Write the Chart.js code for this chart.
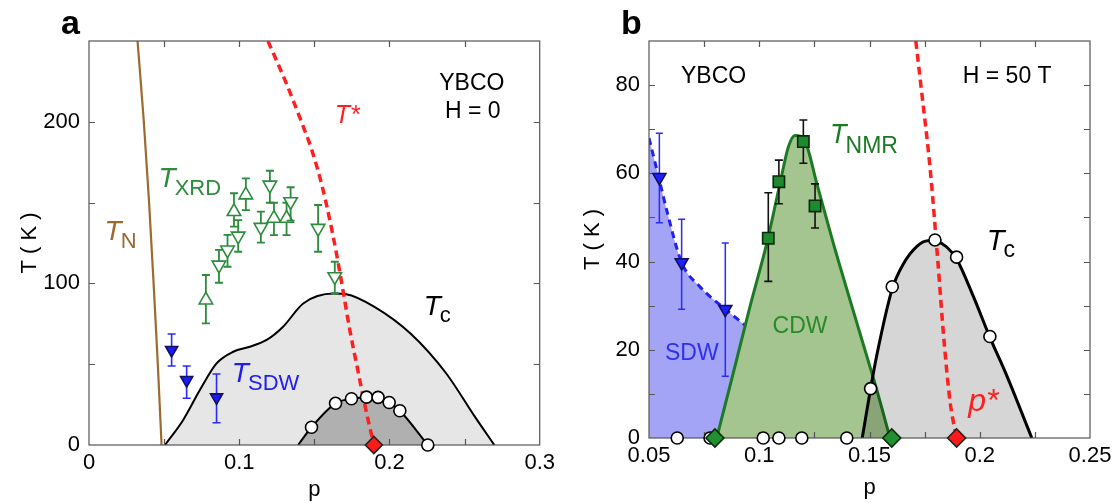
<!DOCTYPE html>
<html>
<head>
<meta charset="utf-8">
<script src="https://cdn.jsdelivr.net/npm/chart.js@4.4.1/dist/chart.umd.min.js"></script>
<style>
  body { margin: 0; background: #fff; }
  #wrap { position: relative; width: 1117px; height: 503px; }
  canvas { position: absolute; top: 0; }
  #chartA { left: 0; }
  #chartB { left: 560px; }
</style>
</head>
<body>
<div id="wrap">
  <canvas id="chartA" width="560" height="503"></canvas>
  <canvas id="chartB" width="557" height="503"></canvas>
</div>
<script>
const FONT = '"Liberation Sans", Arial, Helvetica, sans-serif';

// ---- panel a : YBCO, H = 0 ----
const xTicksA = [0, 0.1, 0.2, 0.3];
const yTicksA = [0, 100, 200];
const tnLineA = [[0.0323, 250], [0.0365, 200], [0.0400, 150], [0.0430, 100], [0.0458, 50], [0.0483, 0]];
const tStarA = [[0.1191, 250], [0.1304, 225.9], [0.1404, 202.4], [0.1483, 182.5], [0.155, 160.9], [0.1603, 139.2],
                [0.1649, 117.6], [0.169, 95.9], [0.1736, 71.2], [0.1789, 46.4], [0.1843, 21.7], [0.1896, 0]];
const tcDomeA = [[0.0506, 0], [0.0627, 15.5], [0.0738, 34], [0.0849, 50.5], [0.096, 57.7], [0.1071, 60.8],
                 [0.1182, 65], [0.1292, 73.2], [0.1426, 87.6], [0.1628, 93.7], [0.1712, 93.3], [0.190, 85.5],
                 [0.214, 69], [0.2377, 44.4], [0.2567, 17.7], [0.2698, 0]];
const tcInnerA = [[0.1392, 0], [0.1481, 11], [0.1641, 25.8], [0.1747, 28.6], [0.1847, 29.6], [0.1924, 29.5],
                  [0.1998, 26.3], [0.2069, 21.2], [0.2255, 0]];
const tcInnerPtsA = [[0.1481, 11], [0.1641, 25.8], [0.1747, 28.6], [0.1847, 29.6], [0.1924, 29.5],
                     [0.1998, 26.3], [0.2069, 21.2], [0.2255, 0]];
// [p, T, lower, upper]
const xrdUp = [[0.0778, 89.7, 75.3, 105.2], [0.0965, 144.4, 135.1, 155.8], [0.1044, 154.7, 145.4, 165],
               [0.1231, 140.3, 129.9, 149.9], [0.1315, 140.3, 129.9, 149.9]];
const xrdDown = [[0.0865, 111.4, 100.4, 120.7], [0.0922, 120.7, 110.3, 130], [0.0993, 129.3, 119.6, 139.2],
                 [0.1144, 134.7, 125.2, 144.4], [0.1204, 160.9, 149.9, 169.7], [0.1342, 150.6, 138.8, 159.5],
                 [0.1525, 134.1, 119.6, 148.5], [0.1636, 104.2, 93.9, 113.4]];
const sdwA = [[0.055, 58.8, 48.9, 68.7], [0.065, 40.2, 28.9, 48.9], [0.0849, 29.5, 13.8, 43.9]];
const pStarA = [[0.1896, 0]];

// ---- panel b : YBCO, H = 50 T ----
const xTicksB = [0.05, 0.1, 0.15, 0.2, 0.25];
const yTicksB = [0, 20, 40, 60, 80];
const sdwLineB = [[0.05, 68], [0.0547, 58.5], [0.058, 51.7], [0.0648, 39.8], [0.0731, 34.3], [0.0846, 29.2], [0.0943, 25.3]];
const cdwLineB = [[0.0807, 0], [0.0882, 14.7], [0.0958, 29.8], [0.1034, 44.1], [0.1094, 57.7], [0.1132, 66],
                  [0.1162, 68.6], [0.1208, 67.2], [0.1261, 57.7], [0.1336, 44.1], [0.1457, 23.7], [0.1533, 10.9], [0.1593, 0]];
const tcDomeB = [[0.1467, 0], [0.1505, 11.2], [0.1532, 18.5], [0.1603, 33.8], [0.1654, 39.5], [0.1714, 43.4],
                 [0.1765, 44.7], [0.181, 44.5], [0.185, 43.3], [0.1895, 40.6], [0.1971, 32.1], [0.2046, 22.8],
                 [0.2122, 14.2], [0.2236, 0]];
const pStarLineB = [[0.171, 90], [0.1733, 80], [0.1777, 60], [0.181, 40], [0.1838, 22], [0.1866, 8], [0.1895, 0]];
const tcPtsB = [[0.1505, 11.2], [0.1603, 34.3], [0.1797, 44.9], [0.1895, 41], [0.2046, 23],
                [0.0628, 0], [0.0777, 0], [0.1018, 0], [0.1089, 0], [0.1193, 0], [0.1397, 0]];
const nmrB = [[0.1041, 45.3, 35.5, 55.6], [0.1089, 58.1, 53.1, 63.0], [0.12, 67.2, 62.3, 72.1], [0.1253, 52.6, 47.6, 57.6]];
const sdwB = [[0.0547, 59.1, 48.8, 69.1], [0.0648, 39.8, 29.2, 49.6], [0.0846, 29.2, 14.0, 44.2]];
const cdwEndsB = [[0.0799, 0], [0.1601, 0]];
const pStarB = [[0.1895, 0]];

const pts = arr => arr.map(d => ({x: d[0], y: d[1]}));

function curve(data, color, width, extra) {
  return Object.assign({
    data: pts(data), borderColor: color, borderWidth: width, pointRadius: 0,
    cubicInterpolationMode: 'monotone', fill: false
  }, extra);
}

function markers(data, style, radius, fillColor, edgeColor, extra) {
  return Object.assign({
    data: pts(data), showLine: false, pointStyle: style, pointRadius: radius,
    pointBackgroundColor: fillColor, pointBorderColor: edgeColor, pointBorderWidth: 1.6, clip: false
  }, extra);
}

// vertical error bars, drawn just under the markers they belong to
const errorBars = {
  id: 'errorBars',
  beforeDatasetDraw(chart, args) {
    const ds = chart.data.datasets[args.index];
    if (!ds.errors) return;
    const {x, y} = chart.scales;
    const ctx = chart.ctx;
    const cap = ds.errorCap;
    ctx.save();
    ctx.strokeStyle = ds.errorColor;
    ctx.lineWidth = ds.errorWidth;
    ds.errors.forEach(d => {
      const px = x.getPixelForValue(d[0]);
      const lo = y.getPixelForValue(d[2]);
      const hi = y.getPixelForValue(d[3]);
      ctx.beginPath();
      ctx.moveTo(px, lo); ctx.lineTo(px, hi);
      ctx.moveTo(px - cap, lo); ctx.lineTo(px + cap, lo);
      ctx.moveTo(px - cap, hi); ctx.lineTo(px + cap, hi);
      ctx.stroke();
    });
    ctx.restore();
  }
};

// box around the plot with inward ticks on all four sides
function frame(xStep, yStep) {
  return {
    id: 'frame',
    afterDatasetDraw(chart, args) {
      const ds = chart.data.datasets[args.index];
      if (!ds.frameAfter) return;
      const {x, y} = chart.scales;
      const a = chart.chartArea;
      const ctx = chart.ctx;
      const len = 6;
      ctx.save();
      ctx.strokeStyle = '#555';
      ctx.lineWidth = 1.2;
      ctx.strokeRect(a.left, a.top, a.right - a.left, a.bottom - a.top);
      ctx.beginPath();
      for (let v = x.min + xStep; v < x.max - 1e-9; v += xStep) {
        const px = Math.round(x.getPixelForValue(v)) + 0.5;
        ctx.moveTo(px, a.bottom); ctx.lineTo(px, a.bottom - len);
        ctx.moveTo(px, a.top); ctx.lineTo(px, a.top + len);
      }
      for (let v = y.min + yStep; v < y.max - 1e-9; v += yStep) {
        const py = Math.round(y.getPixelForValue(v)) + 0.5;
        ctx.moveTo(a.left, py); ctx.lineTo(a.left + len, py);
        ctx.moveTo(a.right, py); ctx.lineTo(a.right - len, py);
      }
      ctx.stroke();
      ctx.restore();
    }
  };
}

// text labels; positions in data units, sub = subscript
function notes(letter, list) {
  return {
    id: 'notes',
    afterDraw(chart) {
      const {x, y} = chart.scales;
      const ctx = chart.ctx;
      ctx.save();
      ctx.textBaseline = 'alphabetic';
      ctx.fillStyle = '#000';
      ctx.textAlign = 'left';
      ctx.font = 'bold 34px ' + FONT;
      ctx.fillText(letter, 61, 34);
      list.forEach(n => {
        const px = x.getPixelForValue(n.p);
        const py = y.getPixelForValue(n.T);
        ctx.fillStyle = n.color;
        ctx.font = n.font;
        ctx.textAlign = n.align || 'left';
        ctx.fillText(n.text, px, py);
        if (n.sub) {
          const w = ctx.measureText(n.text).width;
          ctx.font = n.subFont;
          ctx.textAlign = 'left';
          ctx.fillText(n.sub, px + w - 1, py + n.subDy);
        }
      });
      ctx.restore();
    }
  };
}

function axes(xr, yr, xTicks, yTicks, yWidth, xHeight, yTitlePad, xTitlePad) {
  const tickFont = {family: FONT, size: 22, lineHeight: 1.2};
  return {
    x: {
      type: 'linear', min: xr[0], max: xr[1],
      afterBuildTicks: s => { s.ticks = xTicks.map(v => ({value: v})); },
      afterFit: s => { s.height = xHeight; },
      grid: {display: false, drawTicks: false},
      border: {display: false},
      ticks: {padding: 5, color: '#000', font: tickFont, autoSkip: false, maxRotation: 0, callback: v => String(v)},
      title: {display: true, text: 'p', color: '#000', font: tickFont, padding: {top: 0, bottom: xTitlePad}}
    },
    y: {
      type: 'linear', min: yr[0], max: yr[1],
      afterBuildTicks: s => { s.ticks = yTicks.map(v => ({value: v})); },
      afterFit: s => { s.width = yWidth; },
      grid: {display: false, drawTicks: false},
      border: {display: false},
      ticks: {padding: 9, color: '#000', font: tickFont, autoSkip: false, callback: v => String(v)},
      title: {display: true, text: 'T ( K )', color: '#000', font: tickFont, padding: {top: yTitlePad, bottom: 0}}
    }
  };
}

const baseOptions = {
  responsive: false,
  animation: false,
  events: [],
  plugins: {legend: {display: false}, tooltip: {enabled: false}}
};

const italic = s => 'italic ' + s + 'px ' + FONT;
const plain = s => s + 'px ' + FONT;

// ---- chart a ----
new Chart(document.getElementById('chartA'), {
  type: 'line',
  data: {
    datasets: [
      markers(pStarA, 'rectRot', 8.5, '#ff1a1a', '#222', {order: 1}),
      markers(tcInnerPtsA, 'circle', 6, '#fff', '#000', {order: 2}),
      markers(sdwA, 'triangle', 7, '#1a1aff', '#101060',
        {order: 3, pointRotation: 180, errors: sdwA, errorColor: '#2a2aff', errorWidth: 1.6, errorCap: 4}),
      markers(xrdDown, 'triangle', 7.8, '#fff', '#2b8c3c',
        {order: 4, pointRotation: 180, errors: xrdDown, errorColor: '#2b8c3c', errorWidth: 1.8, errorCap: 4}),
      markers(xrdUp, 'triangle', 7.8, '#fff', '#2b8c3c',
        {order: 5, errors: xrdUp, errorColor: '#2b8c3c', errorWidth: 1.8, errorCap: 4}),
      curve(tStarA, '#ff1f1f', 3.5, {order: 6, borderDash: [8, 5]}),
      curve(tcInnerA, '#000', 2, {order: 7, fill: 'origin', backgroundColor: '#b0b0b0', frameAfter: true}),
      curve(tcDomeA, '#000', 2, {order: 8, fill: 'origin', backgroundColor: '#e6e6e6'}),
      curve(tnLineA, '#9b6a2f', 2.2, {order: 9})
    ]
  },
  options: Object.assign({}, baseOptions, {
    layout: {padding: {left: 0, right: 20, top: 41, bottom: 0}},
    scales: axes([0, 0.3], [0, 250], xTicksA, yTicksA, 89, 58, 17, 0)
  }),
  plugins: [errorBars, frame(0.05, 50), notes('a', [
    {text: 'YBCO', p: 0.2548, T: 219.7, align: 'center', color: '#000', font: plain(23)},
    {text: 'H = 0', p: 0.2554, T: 202.4, align: 'center', color: '#000', font: plain(23)},
    {text: 'T*', p: 0.1636, T: 199.3, color: '#ff1f1f', font: italic(25)},
    {text: 'T', sub: 'XRD', p: 0.0463, T: 159.7, color: '#2b8c3c', font: italic(28), subFont: plain(22), subDy: 8},
    {text: 'T', sub: 'N', p: 0.0104, T: 126.9, color: '#9b6a2f', font: italic(28), subFont: plain(22), subDy: 8},
    {text: 'T', sub: 'c', p: 0.2228, T: 80.4, color: '#000', font: italic(28), subFont: plain(22), subDy: 7},
    {text: 'T', sub: 'SDW', p: 0.0951, T: 39, color: '#2020ee', font: italic(28), subFont: plain(22), subDy: 8}
  ])]
});

// ---- chart b ----
new Chart(document.getElementById('chartB'), {
  type: 'line',
  data: {
    datasets: [
      markers(pStarB, 'rectRot', 9, '#ff1a1a', '#222', {order: 1}),
      markers(cdwEndsB, 'rectRot', 9, '#1f8f2f', '#0a2a0a', {order: 2}),
      markers(tcPtsB, 'circle', 6, '#fff', '#000', {order: 3}),
      markers(nmrB, 'rect', 8, '#1e8a2e', '#0a2a0a',
        {order: 4, errors: nmrB, errorColor: '#111', errorWidth: 1.6, errorCap: 4}),
      markers(sdwB, 'triangle', 7.5, '#2020ff', '#101060',
        {order: 5, pointRotation: 180, errors: sdwB, errorColor: '#2a2aff', errorWidth: 1.5, errorCap: 3.5}),
      curve(pStarLineB, '#ff1f1f', 3.5, {order: 6, borderDash: [8, 5], frameAfter: true}),
      curve(tcDomeB, '#000', 3, {order: 7, fill: 'origin', backgroundColor: 'rgba(0,0,0,0.16)'}),
      curve(cdwLineB, '#1c7a24', 3, {order: 8, fill: 'origin', backgroundColor: '#a4c58f'}),
      curve(sdwLineB, '#2020f0', 3, {order: 9, borderDash: [7, 5], fill: 'origin', backgroundColor: '#a4a4f6'})
    ]
  },
  options: Object.assign({}, baseOptions, {
    layout: {padding: {left: 0, right: 27, top: 41, bottom: 0}},
    scales: axes([0.05, 0.25], [0, 90], xTicksB, yTicksB, 89, 65, 20, 2)
  }),
  plugins: [errorBars, frame(0.025, 10), notes('b', [
    {text: 'YBCO', p: 0.0645, T: 80.5, color: '#000', font: plain(23)},
    {text: 'H = 50 T', p: 0.1923, T: 80.5, color: '#000', font: plain(23)},
    {text: 'T', sub: 'NMR', p: 0.1321, T: 66.8, color: '#1c7a24', font: italic(27), subFont: plain(23), subDy: 10},
    {text: 'CDW', p: 0.1185, T: 23.7, align: 'center', color: '#2a8a2a', font: plain(23)},
    {text: 'SDW', p: 0.0694, T: 17.7, align: 'center', color: '#3030f0', font: plain(23)},
    {text: 'T', sub: 'c', p: 0.2032, T: 42.6, color: '#000', font: italic(29), subFont: plain(23), subDy: 7},
    {text: 'p*', p: 0.1948, T: 6.2, color: '#ff1f1f', font: italic(32)}
  ])]
});
</script>
</body>
</html>
